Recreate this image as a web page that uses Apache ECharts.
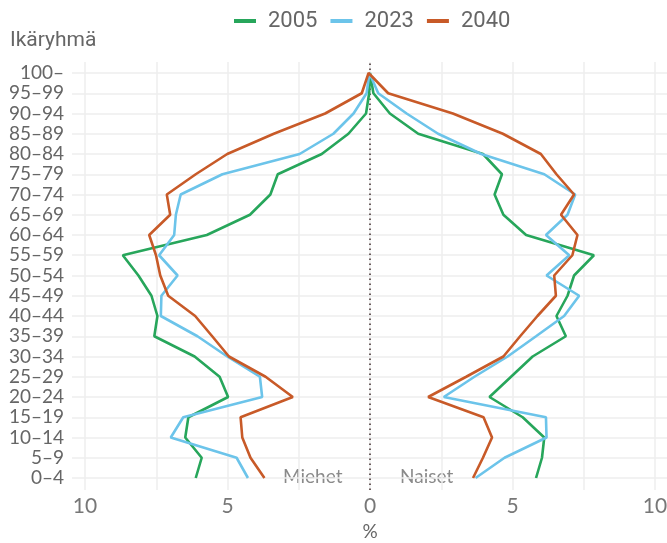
<!DOCTYPE html>
<html>
<head>
<meta charset="utf-8">
<script src="https://cdn.jsdelivr.net/npm/echarts@6/dist/echarts.min.js"></script>
<style>
  html, body { margin: 0; padding: 0; background: #fff; }
  #chart { width: 667px; height: 543px; }
</style>
</head>
<body>
<div id="chart"></div>
<script>
// ikäryhmät alhaalta ylös
var ages = ['0–4', '5–9', '10–14', '15–19', '20–24', '25–29', '30–34', '35–39', '40–44', '45–49',
  '50–54', '55–59', '60–64', '65–69', '70–74', '75–79', '80–84', '85–89', '90–94', '95–99', '100–'];
var years = ['2005', '2023', '2040'];
var colors = ['#27a65b', '#6cc4ea', '#c85a28'];

// osuus väestöstä (%), miehet
var men2005 = [6.14, 5.93, 6.51, 6.4, 5.0, 5.3, 6.18, 7.6, 7.49, 7.7, 8.16, 8.71, 5.75, 4.23, 3.51, 3.25, 1.7, 0.76, 0.14, 0.03, 0.0];
var men2023 = [4.3, 4.7, 7.02, 6.58, 3.8, 3.88, 5.03, 6.08, 7.37, 7.35, 6.78, 7.43, 6.9, 6.84, 6.67, 5.2, 2.48, 1.29, 0.58, 0.12, 0.02];
var men2040 = [3.72, 4.21, 4.5, 4.56, 2.72, 3.68, 4.97, 5.56, 6.16, 7.11, 7.39, 7.54, 7.78, 7.04, 7.16, 6.14, 5.03, 3.39, 1.58, 0.29, 0.05];
// naiset
var women2005 = [5.85, 6.06, 6.14, 5.38, 4.21, 4.97, 5.73, 6.9, 6.57, 6.96, 7.19, 7.89, 5.5, 4.7, 4.39, 4.65, 3.98, 1.7, 0.7, 0.12, 0.0];
var women2023 = [3.72, 4.74, 6.22, 6.2, 2.6, 3.68, 4.85, 5.85, 6.84, 7.37, 6.22, 7.02, 6.2, 6.96, 7.23, 6.14, 3.92, 2.4, 1.29, 0.29, 0.02];
var women2040 = [3.63, 3.98, 4.3, 4.0, 2.05, 3.39, 4.7, 5.29, 5.9, 6.55, 6.49, 7.13, 7.31, 6.73, 7.19, 6.57, 6.02, 4.68, 2.92, 0.64, 0.0];

var menData = [men2005, men2023, men2040];
var womenData = [women2005, women2023, women2040];

// yksi viiva per vuosi: miehet alhaalta ylös, naiset ylhäältä alas
function buildLine(men, women) {
  var pts = [];
  for (var i = 0; i < men.length; i++) pts.push([-men[i], i]);
  for (var j = women.length - 1; j >= 0; j--) pts.push([women[j], j]);
  return pts;
}

var chart = echarts.init(document.getElementById('chart'));
var labelFont = 'Lato, "Noto Sans", sans-serif';

var series = years.map(function (y, k) {
  return {
    name: y,
    type: 'line',
    xAxisIndex: 0,
    yAxisIndex: 0,
    data: buildLine(menData[k], womenData[k]),
    showSymbol: false,
    lineStyle: { width: 2.6, color: colors[k] },
    itemStyle: { color: colors[k] },
    z: 3
  };
});
// nollaviiva
series.push({
  name: 'nolla',
  type: 'line',
  xAxisIndex: 1,
  yAxisIndex: 1,
  data: [[0, 0], [0, 1]],
  showSymbol: false,
  lineStyle: { type: [1.5, 3.5], width: 1.5, color: '#3b2a2a' },
  z: 2
});

var option = {
  animation: false,
  color: colors,
  title: {
    text: 'Ikäryhmä',
    left: 5,
    top: 25,
    textStyle: { fontFamily: 'Roboto, sans-serif', fontSize: 21, fontWeight: 'normal', color: '#666' }
  },
  legend: {
    data: years,
    left: 229,
    top: 5,
    icon: 'rect',
    itemWidth: 22,
    itemHeight: 4,
    itemGap: 13,
    textStyle: { fontFamily: 'Roboto, sans-serif', fontSize: 22, color: '#666', padding: [0, 0, 0, 7] }
  },
  grid: [
    { left: 72, width: 596, top: 73, height: 405, outerBoundsMode: 'none' },
    { left: 85, width: 570, top: 62, height: 428, outerBoundsMode: 'none' }
  ],
  xAxis: [
    {
      gridIndex: 0, type: 'value', min: -10.5, max: 10.5,
      axisLine: { show: false }, axisTick: { show: false }, axisLabel: { show: false },
      splitLine: { show: false }
    },
    {
      gridIndex: 1, type: 'value', min: -10, max: 10, interval: 2.5,
      name: '%', nameLocation: 'middle', nameGap: 31,
      nameTextStyle: { fontFamily: labelFont, fontSize: 19, color: '#666' },
      axisLine: { show: false }, axisTick: { show: false },
      axisLabel: {
        margin: 6,
        fontFamily: labelFont, fontSize: 21, color: '#777',
        formatter: function (v) { return v % 5 === 0 ? String(Math.abs(v)) : ''; }
      },
      splitLine: { show: true, lineStyle: { color: '#eeeeee', width: 1.5 } }
    }
  ],
  yAxis: [
    {
      gridIndex: 0, type: 'value', min: 0, max: 20, interval: 1,
      axisLine: { show: false }, axisTick: { show: false },
      axisLabel: {
        margin: 8,
        fontFamily: labelFont, fontSize: 19, color: '#666',
        formatter: function (v) { return ages[v] || ''; }
      },
      splitLine: { show: true, lineStyle: { color: '#eeeeee', width: 1.5 } }
    },
    {
      gridIndex: 1, type: 'value', min: 0, max: 1, show: false
    }
  ],
  graphic: [
    {
      type: 'text', left: 283, top: 467,
      style: { text: 'Miehet', font: '19px ' + labelFont, fill: '#8a8a8a' }
    },
    {
      type: 'text', left: 400, top: 467,
      style: { text: 'Naiset', font: '19px ' + labelFont, fill: '#8a8a8a' }
    }
  ],
  series: series
};

chart.setOption(option);
</script>
</body>
</html>
